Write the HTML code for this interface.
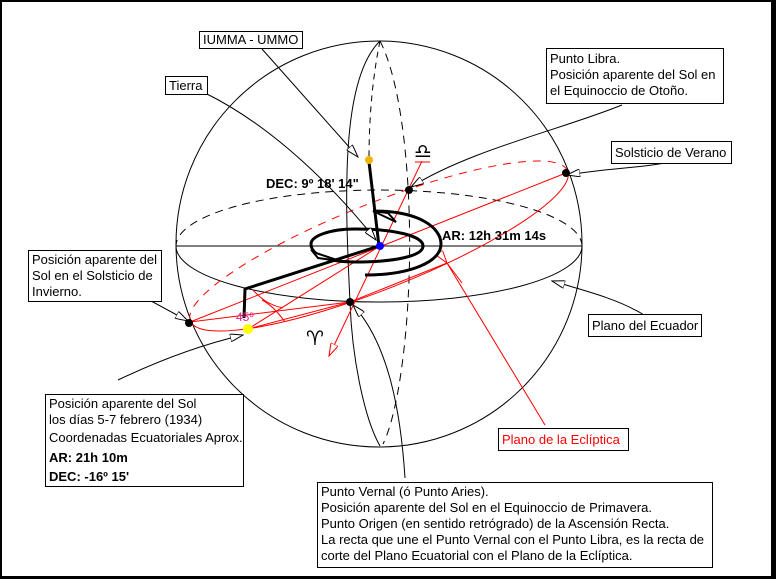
<!DOCTYPE html>
<html><head><meta charset="utf-8"><style>
html,body{margin:0;padding:0;background:#fff}
#f{position:relative;width:776px;height:579px;box-sizing:border-box;border-left:2px solid #000;border-top:2px solid #000;border-bottom:3px solid #000;border-right:5px solid #000;overflow:hidden;background:#fff}
svg{position:absolute;left:-2px;top:-2px}
.b{position:absolute;border:1px solid #000;background:#fff;font-family:"Liberation Sans",sans-serif;font-size:13px;line-height:16px;color:#000;padding:0 3px;box-sizing:border-box;white-space:nowrap}
</style></head><body><div id="f">
<svg width="776" height="579" viewBox="0 0 776 579" font-family="Liberation Sans, sans-serif">
<defs>
<marker id="oa" markerWidth="14" markerHeight="8" refX="13" refY="4" orient="auto" markerUnits="userSpaceOnUse"><path d="M0,0 L13,4 L0,8 Z" fill="#fff" stroke="#000" stroke-width="1"/></marker>
<marker id="ra" markerWidth="14" markerHeight="8" refX="13" refY="4" orient="auto" markerUnits="userSpaceOnUse"><path d="M0,0 L13,4 L0,8 Z" fill="#fff" stroke="#f00" stroke-width="1"/></marker>
</defs>
<g fill="none" stroke="#000" stroke-width="1">
<circle cx="379" cy="244" r="203"/>
<line x1="176" y1="246" x2="582" y2="246"/>
<path d="M176,246 A203,56 0 0 0 582,246"/>
<path d="M582,246 A203,56 0 0 0 176,246" stroke-dasharray="8,6"/>
<path d="M380,41 C340,80 345,200 350,302 C352,360 365,420 380,446"/>
<path d="M380,41 C405,90 412,200 409,280 C406,360 395,420 383,444" stroke-dasharray="8,6"/>
<path d="M380,41 C372,80 369,120 369,160" stroke-dasharray="6,5"/>
</g>
<g transform="rotate(-21.7 379 246)" fill="none" stroke="#f00" stroke-width="1">
<path d="M176,246 A203,43 0 0 0 582,246"/>
<path d="M582,246 A203,43 0 0 0 176,246" stroke-dasharray="8,7"/>
</g>
<g stroke="#f00" stroke-width="1" fill="none">
<line x1="190" y1="322" x2="566" y2="173"/>
<line x1="422" y1="161" x2="329" y2="356" marker-end="url(#ra)"/>
<line x1="415" y1="162" x2="430" y2="162"/>
<line x1="248" y1="329" x2="380" y2="246"/>
<polyline points="248,329 350,302 447,263"/>
<line x1="190" y1="322" x2="350" y2="302"/>
<path d="M447,263 L545,425"/>
<path d="M447,263 L462,283" marker-start="url(#ra)"/>
<path d="M253,290 C262,300 270,305 283,308"/>
<path d="M262,300 C272,305 280,315 285,322"/>
</g>
<g fill="none" stroke="#000" stroke-width="3">
<line x1="369" y1="162" x2="379" y2="246"/>
<polyline points="379,246 245,289 244,318"/>
<path d="M355,229 C395,229 423,236 423,246 C423,256 395,262 355,262 C325,262 311,254 311,244 C311,236 330,229 355,229"/>
<path d="M373,211 C420,211 441,228 441,244 C441,262 410,275 365,275"/>
</g>
<path d="M373,211 L388,213 L396,222 Z" fill="#fff" stroke="#000" stroke-width="2"/>
<path d="M313,252 L340,261 L318,258 Z" fill="#fff" stroke="#000" stroke-width="2"/>
<g fill="none" stroke="#000" stroke-width="1">
<path d="M262,49 L358,157" marker-end="url(#oa)"/>
<path d="M205,93 C260,120 320,170 376,240" marker-end="url(#oa)"/>
<path d="M622,105 C560,130 470,150 411,187" marker-end="url(#oa)"/>
<path d="M664,163 C640,168 610,168 567,175" marker-end="url(#oa)"/>
<path d="M118,283 L188,321" marker-end="url(#oa)"/>
<path d="M644,315 C620,300 590,292 552,281" marker-end="url(#oa)"/>
<path d="M118,380 C160,360 200,345 243,335" marker-end="url(#oa)"/>
<path d="M405,478 C400,400 385,340 353,305" marker-end="url(#oa)"/>
</g>
<circle cx="409" cy="190" r="4" fill="#000"/>
<circle cx="566" cy="173" r="4" fill="#000"/>
<circle cx="189" cy="323" r="4" fill="#000"/>
<circle cx="350" cy="302" r="4" fill="#000"/>
<circle cx="248" cy="329" r="5" fill="#ff0"/>
<circle cx="369" cy="160" r="4" fill="#f0b400"/>
<circle cx="380" cy="246" r="4" fill="#00f"/>
<text x="266" y="188" font-size="13" font-weight="bold">DEC: 9º 18' 14"</text>
<text x="442" y="240" font-size="13" font-weight="bold">AR: 12h 31m 14s</text>
<text x="236" y="321" font-size="12" fill="#e0208a">45º</text>
<text x="414" y="158" font-size="20" fill="#000" font-family="DejaVu Sans, sans-serif">&#9806;&#65038;</text>
<text x="306" y="345" font-size="20" fill="#000" font-family="DejaVu Sans, sans-serif">&#9800;&#65038;</text>
</svg>
<div class="b" style="left:197px;top:29px;width:104px;height:18px;line-height:16px">IUMMA - UMMO</div>
<div class="b" style="left:163px;top:74px;width:43px;height:19px;line-height:17px">Tierra</div>
<div class="b" style="left:544px;top:46px;width:178px;height:56px;padding-top:2px">Punto Libra.<br>Posición aparente del Sol en<br>el Equinoccio de Otoño.</div>
<div class="b" style="left:609px;top:139px;width:121px;height:23px;line-height:21px">Solsticio de Verano</div>
<div class="b" style="left:26px;top:248px;width:134px;height:52px;padding-top:1px">Posición aparente del<br>Sol en el Solsticio de<br>Invierno.</div>
<div class="b" style="left:586px;top:312px;width:114px;height:23px;line-height:21px">Plano del Ecuador</div>
<div class="b" style="left:43px;top:392px;width:199px;height:93px;padding-top:1px">Posición aparente del Sol<br>los días 5-7 febrero (1934)<br><span style="line-height:20px">Coordenadas Ecuatoriales Aprox.</span><br><b style="font-size:13px;line-height:19px">AR: 21h 10m</b><br><b style="font-size:13px;line-height:19px">DEC: -16º 15'</b></div>
<div class="b" style="left:496px;top:426px;width:131px;height:23px;line-height:21px;color:#f00">Plano de la Eclíptica</div>
<div class="b" style="left:315px;top:480px;width:396px;height:86px;padding-top:1px">Punto Vernal (ó Punto Aries).<br>Posición aparente del Sol en el Equinoccio de Primavera.<br>Punto Origen (en sentido retrógrado) de la Ascensión Recta.<br>La recta que une el Punto Vernal con el Punto Libra, es la recta de<br>corte del Plano Ecuatorial con el Plano de la Eclíptica.</div>
</div></body></html>
